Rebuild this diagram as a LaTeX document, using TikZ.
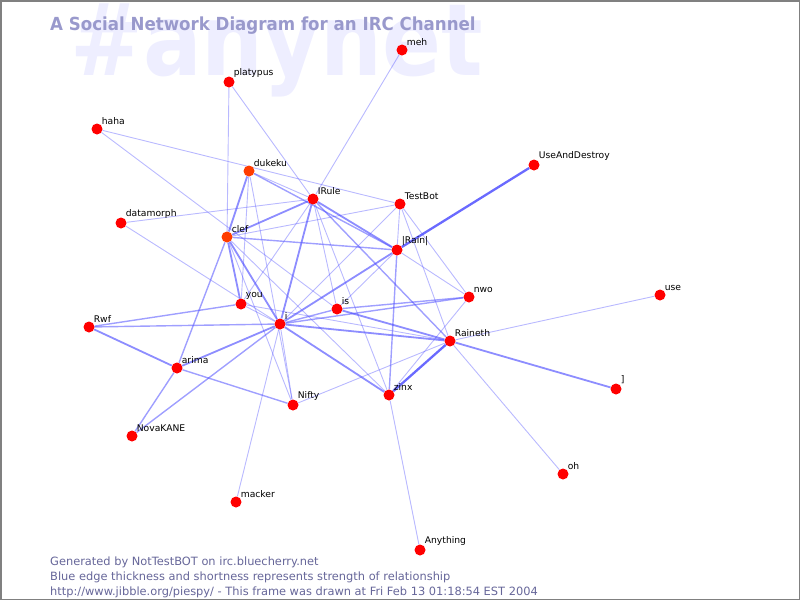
\documentclass[tikz,border=0pt]{standalone}
\usepackage{graphicx}
\usepackage{fontspec}
\setmainfont{DejaVu Sans}
\definecolor{nickred}{RGB}{255,0,0}
\definecolor{nickorange}{RGB}{255,60,0}
\definecolor{linkblue}{RGB}{80,80,255}
\definecolor{titleblue}{RGB}{153,153,204}
\definecolor{footblue}{RGB}{102,102,153}
\definecolor{markblue}{RGB}{238,238,255}
\pgfdeclarelayer{mark}
\pgfdeclarelayer{links}
\pgfsetlayers{mark,links,main}
\tikzset{nick/.style={circle, fill=nickred, minimum size=11pt, inner sep=0pt,
    label={[font=\fontsize{9.2}{10}\selectfont, inner sep=0.6pt]north east:#1}}}
\tikzset{hot/.style={fill=nickorange}}
\tikzset{thinlink/.style={draw=linkblue, draw opacity=0.4, line width=0.9pt}}
\tikzset{midlink/.style={draw=linkblue, draw opacity=0.55, line width=1.4pt}}
\tikzset{thicklink/.style={draw=linkblue, draw opacity=0.65, line width=1.8pt}}
\tikzset{stronglink/.style={draw=linkblue, draw opacity=0.85, line width=2.3pt}}
\tikzset{foot/.style={anchor=base west, inner sep=0pt, text=footblue, font=\fontsize{11.4}{13}\selectfont}}

\begin{document}
\begin{tikzpicture}[x=1pt, y=-1pt]
      \useasboundingbox (0, 0) rectangle (800, 600);
      \draw[gray, line width=1.5pt] (0.75, 0.75) rectangle (799.25, 599.25);

      \begin{pgfonlayer}{mark}
        \node[anchor=base west, inner sep=0pt, text=markblue, font=\bfseries\fontsize{100}{100}\selectfont] (channel) at (70, 75) {\scalebox{0.87}[1]{\#anynet}};
      \end{pgfonlayer}
      \node[anchor=base west, inner sep=0pt, text=titleblue, font=\bfseries\fontsize{18}{21}\selectfont] (title) at (50, 30) {\scalebox{0.925}[1]{A Social Network Diagram for an IRC Channel}};

      \node[nick=meh] (meh) at (402, 50) {};
      \node[nick=platypus] (platypus) at (229, 82) {};
      \node[nick=haha] (haha) at (97, 129) {};
      \node[nick=dukeku, hot] (dukeku) at (249, 171) {};
      \node[nick=IRule] (irule) at (313, 199) {};
      \node[nick=TestBot] (testbot) at (400, 204) {};
      \node[nick=UseAndDestroy] (uad) at (534, 165) {};
      \node[nick=datamorph] (datamorph) at (121, 223) {};
      \node[nick=clef, hot] (clef) at (227, 237) {};
      \node[nick=|Rain|] (rain) at (397, 250) {};
      \node[nick=nwo] (nwo) at (469, 297) {};
      \node[nick=use] (use) at (660, 295) {};
      \node[nick=you] (you) at (241, 304) {};
      \node[nick=is] (is) at (337, 309) {};
      \node[nick=i] (i) at (280, 324) {};
      \node[nick=Rwf] (rwf) at (89, 327) {};
      \node[nick=Raineth] (raineth) at (450, 341) {};
      \node[nick=arima] (arima) at (177, 368) {};
      \node[nick={]}] (bracket) at (616, 389) {};
      \node[nick=zinx] (zinx) at (389, 395) {};
      \node[nick=Nifty] (nifty) at (293, 405) {};
      \node[nick=NovaKANE] (novakane) at (132, 436) {};
      \node[nick=oh] (oh) at (563, 474) {};
      \node[nick=macker] (macker) at (236, 502) {};
      \node[nick=Anything] (anything) at (420, 550) {};

      \begin{pgfonlayer}{links}
        % strongest pairs
        \draw[stronglink] (rain) -- (uad);
        \draw[stronglink] (raineth) -- (zinx);
        % heavy
        \draw[thicklink] (i) -- (arima);
        \draw[thicklink] (i) -- (irule);
        \draw[thicklink] (i) -- (rain);
        \draw[thicklink] (i) -- (clef);
        \draw[thicklink] (i) -- (raineth);
        \draw[thicklink] (i) -- (zinx);
        \draw[thicklink] (clef) -- (irule);
        \draw[thicklink] (clef) -- (dukeku);
        \draw[thicklink] (clef) -- (you);
        \draw[thicklink] (rwf) -- (arima);
        \draw[thicklink] (irule) -- (rain);
        \draw[thicklink] (raineth) -- (bracket);
        \draw[thicklink] (is) -- (raineth);
        % medium
        \draw[midlink] (rwf) -- (i);
        \draw[midlink] (rwf) -- (you);
        \draw[midlink] (arima) -- (nifty);
        \draw[midlink] (arima) -- (novakane);
        \draw[midlink] (arima) -- (clef);
        \draw[midlink] (novakane) -- (i);
        \draw[midlink] (clef) -- (rain);
        \draw[midlink] (irule) -- (raineth);
        \draw[midlink] (i) -- (is);
        \draw[midlink] (rain) -- (zinx);
        \draw[midlink] (is) -- (nwo);
        \draw[midlink] (i) -- (nwo);
        \draw[midlink] (dukeku) -- (rain);
        % light
        \draw[thinlink] (meh) -- (irule);
        \draw[thinlink] (platypus) -- (clef);
        \draw[thinlink] (platypus) -- (irule);
        \draw[thinlink] (haha) -- (testbot);
        \draw[thinlink] (haha) -- (is);
        \draw[thinlink] (datamorph) -- (irule);
        \draw[thinlink] (datamorph) -- (i);
        \draw[thinlink] (dukeku) -- (irule);
        \draw[thinlink] (dukeku) -- (you);
        \draw[thinlink] (dukeku) -- (nifty);
        \draw[thinlink] (clef) -- (testbot);
        \draw[thinlink] (clef) -- (nifty);
        \draw[thinlink] (clef) -- (zinx);
        \draw[thinlink] (irule) -- (zinx);
        \draw[thinlink] (irule) -- (you);
        \draw[thinlink] (irule) -- (is);
        \draw[thinlink] (testbot) -- (rain);
        \draw[thinlink] (testbot) -- (raineth);
        \draw[thinlink] (testbot) -- (nwo);
        \draw[thinlink] (testbot) -- (i);
        \draw[thinlink] (rain) -- (nwo);
        \draw[thinlink] (rain) -- (is);
        \draw[thinlink] (nwo) -- (zinx);
        \draw[thinlink] (raineth) -- (use);
        \draw[thinlink] (raineth) -- (oh);
        \draw[thinlink] (raineth) -- (nifty);
        \draw[thinlink] (you) -- (raineth);
        \draw[thinlink] (you) -- (i);
        \draw[thinlink] (zinx) -- (anything);
        \draw[thinlink] (macker) -- (i);
        \draw[thinlink] (i) -- (nifty);
      \end{pgfonlayer}

      \node[foot] (generated) at (50, 565) {Generated by NotTestBOT on irc.bluecherry.net};
      \node[foot] (legend) at (50, 580) {Blue edge thickness and shortness represents strength of relationship};
      \node[foot] (url) at (50, 595) {http://www.jibble.org/piespy/ - This frame was drawn at Fri Feb 13 01:18:54 EST 2004};

    \end{tikzpicture}
\end{document}
